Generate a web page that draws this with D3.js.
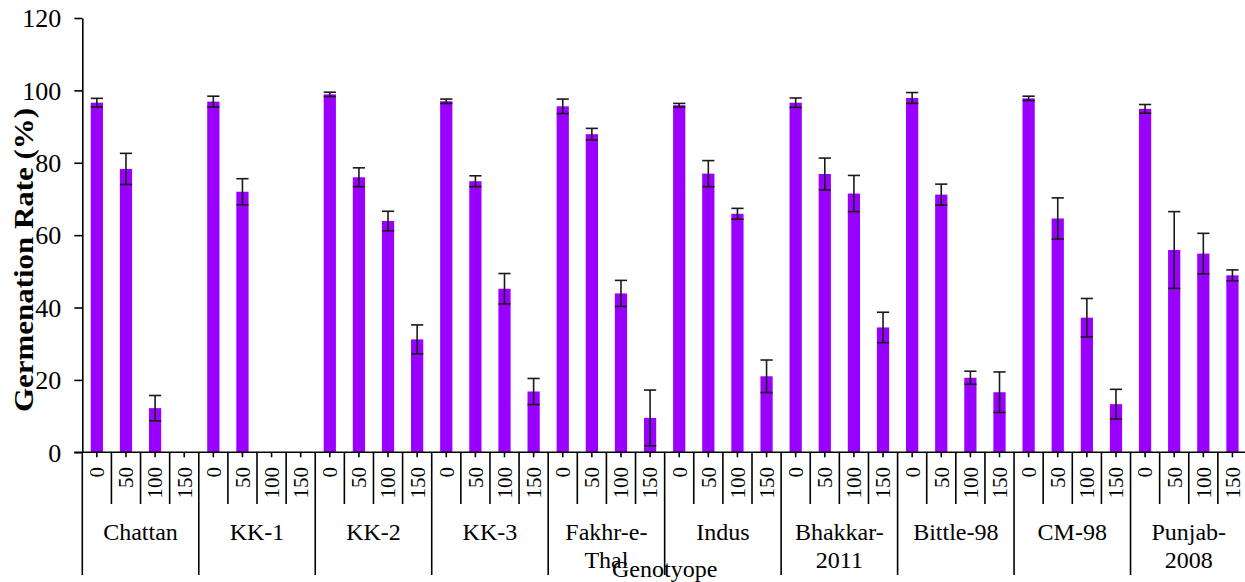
<!DOCTYPE html>
<html>
<head>
<meta charset="utf-8">
<script src="https://cdn.jsdelivr.net/npm/d3@7"></script>
<style>
  html, body { margin: 0; padding: 0; background: #fff; }
  svg { display: block; }
  text { font-family: "Liberation Serif", "Times New Roman", serif; fill: #000; }
</style>
</head>
<body>
<svg id="chart" width="1245" height="582"></svg>
<script>
// Genotypes and the NaCl levels (mM) tested for each
const genotypes = ["Chattan", "KK-1", "KK-2", "KK-3", "Fakhr-e-Thal", "Indus",
                   "Bhakkar-2011", "Bittle-98", "CM-98", "Punjab-2008"];
const genotypeLines = [["Chattan"], ["KK-1"], ["KK-2"], ["KK-3"], ["Fakhr-e-", "Thal"], ["Indus"],
                       ["Bhakkar-", "2011"], ["Bittle-98"], ["CM-98"], ["Punjab-", "2008"]];
const levels = ["0", "50", "100", "150"];

// Mean germination rate (%) per genotype at each level
const mean0   = [96.6, 96.9, 98.9, 97.0, 95.6, 95.9, 96.6, 97.9, 97.8, 94.9];
const mean50  = [78.3, 72.0, 76.0, 74.9, 87.9, 77.0, 76.9, 71.2, 64.6, 55.9];
const mean100 = [12.2,  0.0, 63.9, 45.2, 43.9, 65.9, 71.5, 20.6, 37.2, 54.9];
const mean150 = [ 0.0,  0.0, 31.2, 16.8,  9.5, 21.0, 34.5, 16.6, 13.3, 48.9];

// Standard error per genotype at each level
const err0   = [1.2, 1.5, 0.6, 0.6, 2.0, 0.5, 1.3, 1.5, 0.6, 1.2];
const err50  = [4.3, 3.6, 2.6, 1.5, 1.6, 3.6, 4.4, 2.9, 5.7, 10.6];
const err100 = [3.5, 0.0, 2.7, 4.2, 3.6, 1.5, 5.0, 1.8, 5.3, 5.6];
const err150 = [0.0, 0.0, 4.0, 3.6, 7.7, 4.5, 4.2, 5.6, 4.1, 1.5];

const yTicks = [0, 20, 40, 60, 80, 100, 120];

const means = [mean0, mean50, mean100, mean150];
const errs = [err0, err50, err100, err150];
const rows = [];
genotypes.forEach((g, gi) => {
  levels.forEach((lv, li) => {
    rows.push({ genotype: g, level: lv, value: means[li][gi], err: errs[li][gi] });
  });
});

const svg = d3.select("#chart");
const plotLeft = 82.3, plotRight = 1247, plotTop = 18, plotBottom = 452.3;

const x0 = d3.scaleBand().domain(genotypes).range([plotLeft, plotRight]).padding(0);
const x1 = d3.scaleBand().domain(levels).range([0, x0.bandwidth()]).padding(0);
const y = d3.scaleLinear().domain([0, 120]).range([plotBottom, plotTop]);

const barW = x1.bandwidth() * 0.42;
const cx = d => x0(d.genotype) + x1(d.level) + x1.bandwidth() / 2;

// Bars
svg.append("g").selectAll("rect")
  .data(rows)
  .join("rect")
  .attr("x", d => cx(d) - barW / 2)
  .attr("y", d => y(d.value))
  .attr("width", barW)
  .attr("height", d => y(0) - y(d.value))
  .attr("fill", "#9900ff");

// Error bars
const eb = svg.append("g").attr("stroke", "#1a1a1a").attr("stroke-width", 1.6)
  .selectAll("g").data(rows.filter(d => d.value > 0)).join("g");
eb.append("line")
  .attr("x1", cx).attr("x2", cx)
  .attr("y1", d => y(d.value + d.err)).attr("y2", d => y(d.value - d.err));
eb.append("line")
  .attr("x1", d => cx(d) - barW / 2).attr("x2", d => cx(d) + barW / 2)
  .attr("y1", d => y(d.value + d.err)).attr("y2", d => y(d.value + d.err));
eb.append("line")
  .attr("x1", d => cx(d) - barW / 2).attr("x2", d => cx(d) + barW / 2)
  .attr("y1", d => y(d.value - d.err)).attr("y2", d => y(d.value - d.err));

// Y axis
const yAxis = svg.append("g")
  .attr("transform", `translate(${plotLeft},0)`)
  .call(d3.axisLeft(y).tickValues(yTicks).tickSize(8).tickPadding(13).tickSizeOuter(0));
yAxis.select(".domain").attr("stroke", "#000").attr("stroke-width", 1.6);
yAxis.selectAll(".tick line").attr("stroke", "#000").attr("stroke-width", 1.6);
yAxis.selectAll(".tick text")
  .style("font-family", "'Liberation Serif', serif")
  .style("font-size", "26px")
  .attr("fill", "#000")
  .attr("dy", "0.34em");

// X axis baseline
const axisG = svg.append("g").attr("stroke", "#000").attr("stroke-width", 1.6);
axisG.append("line").attr("x1", plotLeft - 8).attr("x2", plotRight).attr("y1", plotBottom).attr("y2", plotBottom);

// Level separators and centre ticks
genotypes.forEach(g => {
  levels.forEach((lv, li) => {
    const xs = x0(g) + x1(lv);
    if (li > 0) {
      axisG.append("line").attr("x1", xs).attr("x2", xs).attr("y1", plotBottom).attr("y2", 504);
    }
    const c = xs + x1.bandwidth() / 2;
    axisG.append("line").attr("x1", c).attr("x2", c).attr("y1", plotBottom).attr("y2", plotBottom + 5);
  });
});
// Genotype separators
genotypes.concat([null]).forEach(g => {
  const xs = g ? x0(g) : plotRight;
  axisG.append("line").attr("x1", xs).attr("x2", xs).attr("y1", plotBottom).attr("y2", 575);
});

// Level labels (rotated)
svg.append("g").selectAll("text")
  .data(rows)
  .join("text")
  .attr("transform", d => `translate(${cx(d)},467) rotate(-90)`)
  .attr("text-anchor", "end")
  .attr("dy", "0.35em")
  .style("font-size", "21px")
  .text(d => d.level);

// Genotype labels
const gl = svg.append("g").selectAll("text")
  .data(genotypes)
  .join("text")
  .attr("x", g => x0(g) + x0.bandwidth() / 2)
  .attr("y", 540)
  .attr("text-anchor", "middle")
  .style("font-size", "24px");
gl.selectAll("tspan")
  .data((g, i) => genotypeLines[i].map(t => ({ t, g })))
  .join("tspan")
  .attr("x", d => x0(d.g) + x0.bandwidth() / 2)
  .attr("dy", (d, i) => i === 0 ? 0 : 28)
  .text(d => d.t);

// Axis titles
svg.append("text")
  .attr("transform", "translate(33,260) rotate(-90)")
  .attr("text-anchor", "middle")
  .style("font-size", "28px")
  .style("font-weight", "bold")
  .attr("textLength", 304)
  .attr("lengthAdjust", "spacingAndGlyphs")
  .text("Germenation Rate (%)");

svg.append("text")
  .attr("x", (plotLeft + plotRight) / 2)
  .attr("y", 577)
  .attr("text-anchor", "middle")
  .style("font-size", "24px")
  .text("Genotyope");
</script>
</body>
</html>
